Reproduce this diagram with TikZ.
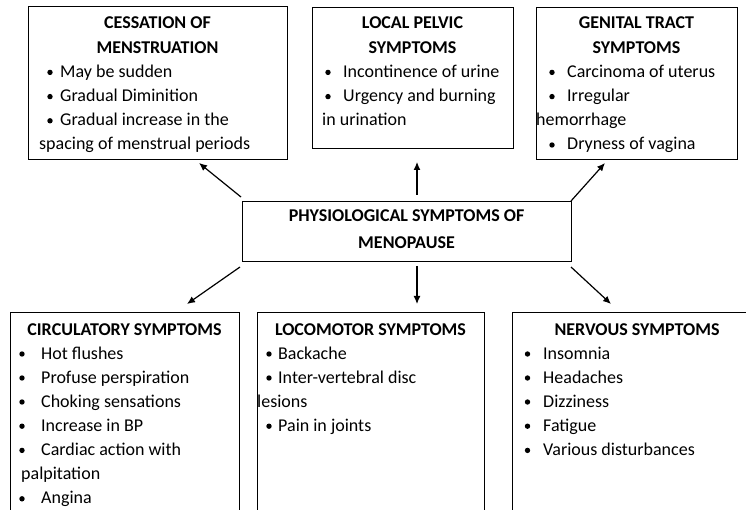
\documentclass[tikz,border=0pt]{standalone}
\usepackage{fontspec}
\setmainfont{Carlito}
\usetikzlibrary{arrows.meta}
\begin{document}
\begin{tikzpicture}[x=1pt,y=-1pt,
  box/.style={draw,line width=1.1pt,inner sep=0pt,anchor=north west},
  ttl/.style={anchor=base,inner sep=0pt,font=\fontsize{18}{22}\selectfont\bfseries},
  item/.style={anchor=base west,inner sep=0pt,font=\fontsize{18}{22}\selectfont},
  bul/.style={circle,fill=black,inner sep=0pt,minimum size=5.4pt},
  arr/.style={line width=1.2pt,-{Latex[length=8pt,width=7pt]}}]
\useasboundingbox (0,0) rectangle (746,510);
% boxes
\node[box,minimum width=259pt,minimum height=153pt] (cess) at (28,6) {};
\node[box,minimum width=201pt,minimum height=141pt] (pelv) at (312,7) {};
\node[box,minimum width=201pt,minimum height=152pt] (gent) at (536,7) {};
\node[box,minimum width=329pt,minimum height=60pt] (meno) at (242,201) {};
\node[box,minimum width=229pt,minimum height=218pt] (circ) at (10,312) {};
\node[box,minimum width=227pt,minimum height=218pt] (loco) at (257,312) {};
\node[box,minimum width=250pt,minimum height=218pt] (nerv) at (512,312) {};
% titles
\foreach \px/\py/\t [count=\i] in {
  157.5/29/CESSATION OF, 157.5/53.2/MENSTRUATION,
  412.5/29/LOCAL PELVIC, 412.5/53.2/SYMPTOMS,
  636.5/29/GENITAL TRACT, 636.5/53.2/SYMPTOMS,
  406.5/222/PHYSIOLOGICAL SYMPTOMS OF, 406.5/249/MENOPAUSE,
  124.5/335/CIRCULATORY SYMPTOMS,
  370.5/335/LOCOMOTOR SYMPTOMS,
  637/335/NERVOUS SYMPTOMS}
  \node[ttl] (h\i) at (\px,\py) {\t};
% bullets
\foreach \px/\py [count=\i] in {
  50/77.4, 50/101.6, 50/125.8,
  328/77.4, 328/101.6,
  552/77.4, 552/101.6, 552/150,
  22/359, 22/383, 22/407, 22/431.2, 22/455.4, 22/503.8,
  269/359, 269/383, 269/431.2,
  527.5/359, 527.5/383, 527.5/407, 527.5/431.2, 527.5/455.4}
  \node[bul] (b\i) at (\px,{\py-5}) {};
% item texts
\foreach \px/\py/\t [count=\i] in {
  60/77.4/May be sudden, 60/101.6/Gradual Diminition, 60/125.8/Gradual increase in the,
  39/150/spacing of menstrual periods,
  343/77.4/Incontinence of urine, 343/101.6/Urgency and burning, 322/125.8/in urination,
  567/77.4/Carcinoma of uterus, 567/101.6/Irregular, 536/125.8/hemorrhage, 567/150/Dryness of vagina,
  41/359/Hot flushes, 41/383/Profuse perspiration, 41/407/Choking sensations,
  41/431.2/Increase in BP, 41/455.4/Cardiac action with, 21/479.6/palpitation, 41/503.8/Angina,
  278/359/Backache, 278/383/Inter-vertebral disc, 257/407/lesions, 278/431.2/Pain in joints,
  543/359/Insomnia, 543/383/Headaches, 543/407/Dizziness, 543/431.2/Fatigue, 543/455.4/Various disturbances}
  \node[item] (t\i) at (\px,\py) {\t};
% arrow end points
\coordinate (ulS) at (241,197); \coordinate (ulE) at (199,163);
\coordinate (upS) at (417,195); \coordinate (upE) at (417,162);
\coordinate (urS) at (571,201); \coordinate (urE) at (605,163);
\coordinate (llS) at (240,267); \coordinate (llE) at (187,304);
\coordinate (dnS) at (417,266); \coordinate (dnE) at (417,304);
\coordinate (lrS) at (571,267); \coordinate (lrE) at (611,304);
\draw[arr] (ulS) -- (ulE);
\draw[arr] (upS) -- (upE);
\draw[arr] (urS) -- (urE);
\draw[arr] (llS) -- (llE);
\draw[arr] (dnS) -- (dnE);
\draw[arr] (lrS) -- (lrE);
\end{tikzpicture}
\end{document}
